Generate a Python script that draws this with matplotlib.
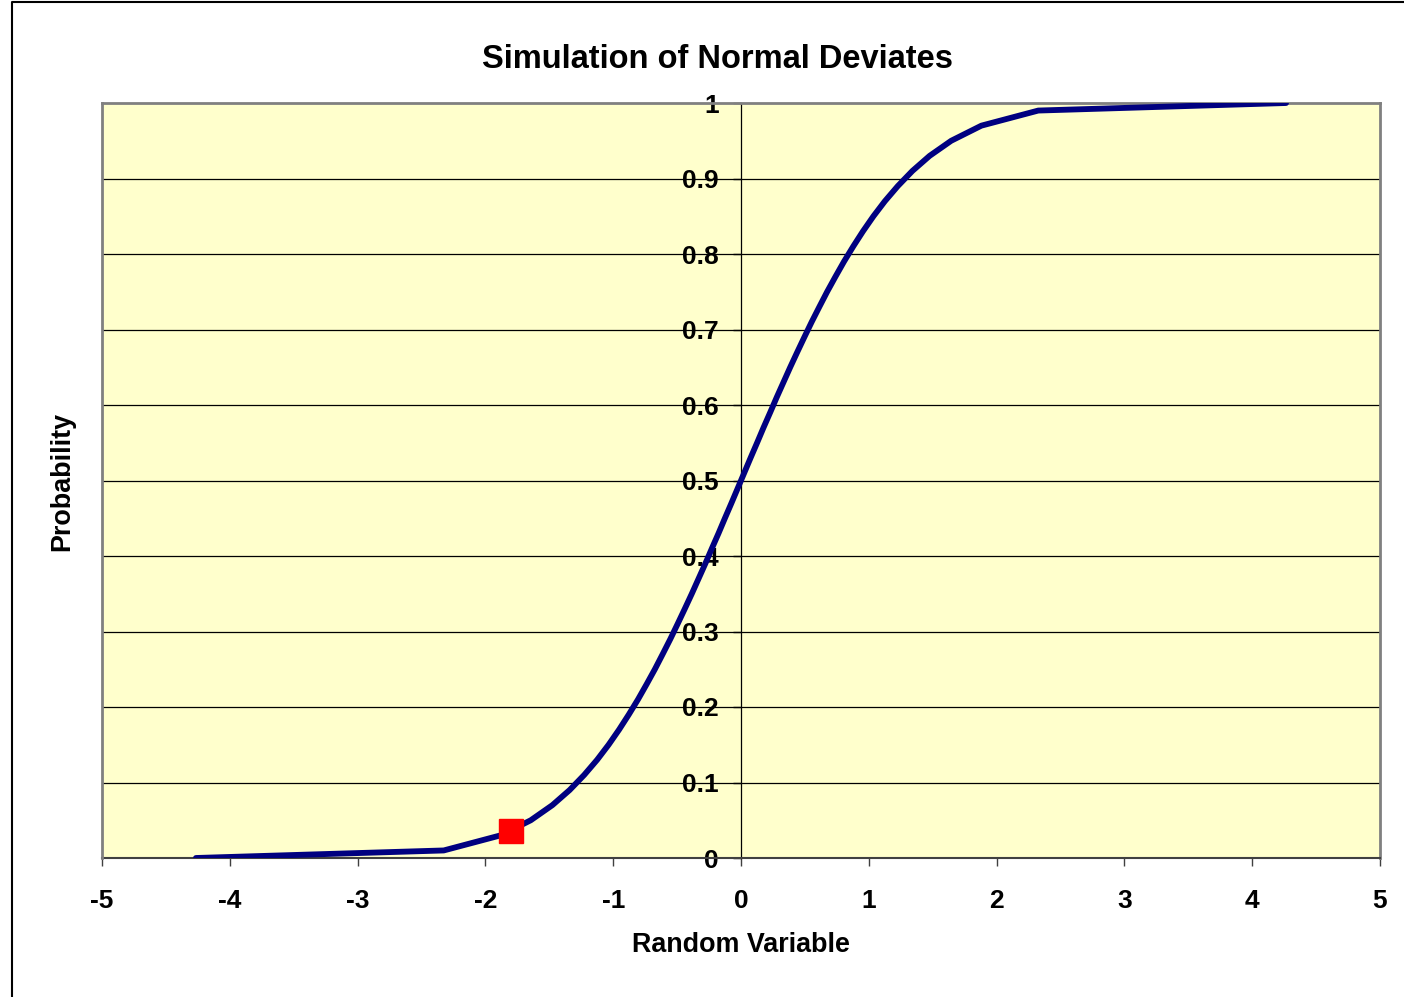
import matplotlib
matplotlib.use('Agg')
import matplotlib.pyplot as plt
from matplotlib.lines import Line2D

# probability points of the simulated normal CDF
x_vals = [-4.265, -2.326, -1.881, -1.645, -1.476, -1.341, -1.227, -1.126, -1.036,
          -0.954, -0.878, -0.806, -0.739, -0.674, -0.613, -0.553, -0.496, -0.440,
          -0.385, -0.332, -0.279, -0.228, -0.176, -0.126, -0.075, -0.025,
          0.025, 0.075, 0.126, 0.176, 0.228, 0.279, 0.332, 0.385, 0.440, 0.496,
          0.553, 0.613, 0.674, 0.739, 0.806, 0.878, 0.954, 1.036, 1.126, 1.227,
          1.341, 1.476, 1.645, 1.881, 2.326, 4.265]
p_vals = [0.00001, 0.01, 0.03, 0.05, 0.07, 0.09, 0.11, 0.13, 0.15,
          0.17, 0.19, 0.21, 0.23, 0.25, 0.27, 0.29, 0.31, 0.33,
          0.35, 0.37, 0.39, 0.41, 0.43, 0.45, 0.47, 0.49,
          0.51, 0.53, 0.55, 0.57, 0.59, 0.61, 0.63, 0.65, 0.67, 0.69,
          0.71, 0.73, 0.75, 0.77, 0.79, 0.81, 0.83, 0.85, 0.87, 0.89,
          0.91, 0.93, 0.95, 0.97, 0.99, 0.99999]

# simulated deviate
dev_x = [-1.8]
dev_p = [0.036]

x_ticks = [-5, -4, -3, -2, -1, 0, 1, 2, 3, 4, 5]
y_ticks = [0, 0.1, 0.2, 0.3, 0.4, 0.5, 0.6, 0.7, 0.8, 0.9, 1]
y_labels = ['0', '0.1', '0.2', '0.3', '0.4', '0.5', '0.6', '0.7', '0.8', '0.9', '1']

plt.rcParams['font.family'] = ['Liberation Sans', 'DejaVu Sans']
plt.rcParams['font.weight'] = 'bold'

fig = plt.figure(figsize=(14.04, 9.97), dpi=100)
ax = fig.add_axes([102/1404, 1-858/997, 1278/1404, 755/997])
ax.set_facecolor('#FFFFCC')

for y in y_ticks[1:-1]:
    ax.axhline(y, color='black', lw=0.9, zorder=1)

ax.plot(x_vals, p_vals, color='#000080', lw=4.2, solid_capstyle='round',
        solid_joinstyle='round', zorder=3)
ax.plot(dev_x, dev_p, marker='s', ls='none', ms=17, color='red',
        markeredgecolor='red', zorder=4)

ax.set_xlim(-5, 5)
ax.set_ylim(0, 1)

ax.spines['left'].set_position(('data', 0))
ax.spines['left'].set_color('black')
ax.spines['left'].set_linewidth(0.9)
for s in ['top', 'right']:
    ax.spines[s].set_color('#808080')
    ax.spines[s].set_linewidth(2)
ax.spines['bottom'].set_color('#404040')
ax.spines['bottom'].set_linewidth(1.5)
ax.axvline(-5, color='#808080', lw=2, clip_on=False, zorder=5)

ax.set_xticks(x_ticks)
ax.set_xticklabels([str(t) for t in x_ticks])
ax.set_yticks(y_ticks)
ax.set_yticklabels(y_labels)
ax.tick_params(axis='x', direction='out', length=6, width=1, color='#404040',
               pad=16, labelsize=19)
ax.tick_params(axis='y', direction='out', length=6, width=1, color='black',
               pad=10, labelsize=19)
for lab in ax.get_xticklabels() + ax.get_yticklabels():
    lab.set_fontweight('bold')

fig.text(717/1404, 1-59/997, 'Simulation of Normal Deviates', ha='center',
         va='center', fontsize=23.5, fontweight='bold')
fig.text(741/1404, 1-945/997, 'Random Variable', ha='center', va='center',
         fontsize=19.4, fontweight='bold')
fig.text(62/1404, 1-481/997, 'Probability', ha='center', va='center',
         rotation=90, fontsize=19.4, fontweight='bold')

# chart area border (left and top)
fig.add_artist(Line2D([12/1404, 12/1404, 1.0], [0.0, 1-2/997, 1-2/997],
                      transform=fig.transFigure, color='black', lw=1.5))

fig.savefig('out.png', dpi=100)
